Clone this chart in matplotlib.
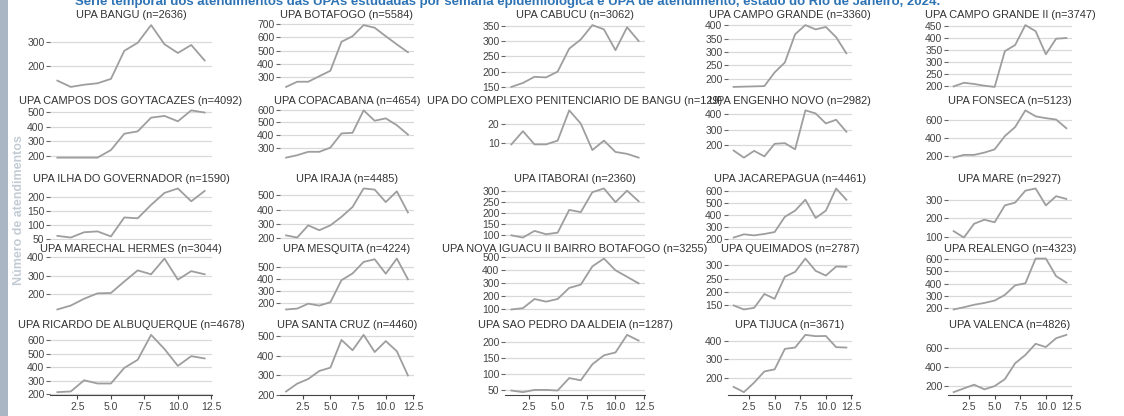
import matplotlib.pyplot as plt
from matplotlib.patches import Rectangle

# semanas epidemiologicas (eixo x comum a todos os paineis)
semanas = [1, 2, 3, 4, 5, 6, 7, 8, 9, 10, 11, 12]
xticks = [2.5, 5.0, 7.5, 10.0, 12.5]

upas = [
    "UPA BANGU", "UPA BOTAFOGO", "UPA CABUCU", "UPA CAMPO GRANDE", "UPA CAMPO GRANDE II",
    "UPA CAMPOS DOS GOYTACAZES", "UPA COPACABANA", "UPA DO COMPLEXO PENITENCIARIO DE BANGU",
    "UPA ENGENHO NOVO", "UPA FONSECA",
    "UPA ILHA DO GOVERNADOR", "UPA IRAJA", "UPA ITABORAI", "UPA JACAREPAGUA", "UPA MARE",
    "UPA MARECHAL HERMES", "UPA MESQUITA", "UPA NOVA IGUACU II BAIRRO BOTAFOGO", "UPA QUEIMADOS",
    "UPA REALENGO",
    "UPA RICARDO DE ALBUQUERQUE", "UPA SANTA CRUZ", "UPA SAO PEDRO DA ALDEIA", "UPA TIJUCA",
    "UPA VALENCA",
]
n_atend = [2636, 5584, 3062, 3360, 3747,
           4092, 4654, 129, 2982, 5123,
           1590, 4485, 2360, 4461, 2927,
           3044, 4224, 3255, 2787, 4323,
           4678, 4460, 1287, 3671, 4826]

# atendimentos por semana
bangu = [141, 115, 124, 130, 148, 264, 297, 370, 291, 255, 288, 224]
botafogo = [225, 264, 264, 306, 347, 566, 608, 692, 672, 608, 546, 487]
cabucu = [150, 163, 183, 181, 200, 275, 305, 352, 338, 270, 345, 300]
campo_grande = [170, 171, 172, 173, 224, 261, 366, 400, 384, 393, 355, 295]
campo_grande_ii = [200, 215, 210, 203, 198, 345, 370, 452, 427, 332, 396, 399]
campos = [188, 188, 188, 188, 240, 352, 368, 462, 474, 437, 512, 497]
copacabana = [222, 241, 268, 268, 301, 413, 418, 595, 513, 532, 478, 404]
penitenciario = [9, 16, 9, 9, 11, 27, 20, 6, 11, 5, 4, 2]
engenho_novo = [164, 118, 162, 126, 208, 212, 172, 425, 405, 340, 364, 286]
fonseca = [185, 215, 215, 240, 275, 420, 518, 700, 635, 615, 600, 505]
ilha = [60, 54, 73, 76, 58, 126, 123, 171, 214, 230, 184, 221]
iraja = [221, 206, 291, 257, 291, 350, 419, 548, 540, 453, 528, 381]
itaborai = [100, 90, 120, 105, 112, 215, 205, 295, 312, 250, 302, 254]
jacarepagua = [209, 236, 227, 239, 255, 383, 434, 526, 373, 434, 620, 525]
mare = [130, 95, 170, 192, 178, 270, 285, 350, 362, 270, 320, 305]
marechal = [117, 138, 175, 204, 206, 268, 328, 307, 392, 278, 324, 307]
mesquita = [146, 153, 194, 178, 206, 389, 445, 541, 563, 443, 569, 397]
nova_iguacu = [100, 110, 180, 160, 180, 265, 290, 430, 490, 400, 350, 300]
queimados = [150, 135, 141, 193, 175, 258, 276, 326, 280, 262, 296, 295]
realengo = [192, 210, 230, 245, 264, 310, 388, 404, 605, 605, 462, 410]
ricardo = [215, 220, 303, 279, 279, 395, 455, 640, 535, 410, 482, 465]
santa_cruz = [218, 258, 282, 323, 340, 482, 429, 508, 420, 476, 424, 300]
sao_pedro = [48, 43, 50, 50, 48, 87, 80, 130, 158, 167, 222, 204]
tijuca = [153, 125, 176, 236, 247, 357, 364, 432, 425, 426, 366, 364]
valenca = [130, 170, 210, 160, 195, 270, 440, 530, 650, 615, 710, 746]

series = [bangu, botafogo, cabucu, campo_grande, campo_grande_ii,
          campos, copacabana, penitenciario, engenho_novo, fonseca,
          ilha, iraja, itaborai, jacarepagua, mare,
          marechal, mesquita, nova_iguacu, queimados, realengo,
          ricardo, santa_cruz, sao_pedro, tijuca, valenca]

yticks = [
    [200, 300], [300, 400, 500, 600, 700], [150, 200, 250, 300, 350],
    [200, 250, 300, 350, 400], [200, 250, 300, 350, 400, 450],
    [200, 300, 400, 500], [300, 400, 500, 600], [10, 20], [200, 300, 400], [200, 400, 600],
    [50, 100, 150, 200], [200, 300, 400, 500], [100, 150, 200, 250, 300],
    [200, 300, 400, 500, 600], [100, 200, 300],
    [200, 300, 400], [200, 300, 400, 500], [100, 200, 300, 400, 500], [150, 200, 250, 300],
    [200, 300, 400, 500, 600],
    [200, 300, 400, 500, 600], [200, 300, 400, 500], [50, 100, 150, 200], [200, 300, 400],
    [200, 400, 600],
]

titolo = ("Série temporal dos atendimentos das UPAs estudadas por semana epidemiológica "
          "e UPA de atendimento, estado do Rio de Janeiro, 2024.")

W, H = 1124, 416
FONT = ['Liberation Sans Narrow', 'Liberation Sans', 'DejaVu Sans']

# posizione dei pannelli in pixel (sinistra/destra per colonna, alto/basso per riga)
col_left = [50, 280, 505, 728, 948]
col_right = [212, 414, 645, 852, 1072]
row_top = [22, 108, 186, 256, 332]
row_bottom = [90, 160, 240, 312, 395]


def px_box(l, r, t, b):
    return [l / W, 1 - b / H, (r - l) / W, (b - t) / H]


def draw_panel(fig, i):
    row, col = divmod(i, 5)
    ax = fig.add_axes(px_box(col_left[col], col_right[col], row_top[row], row_bottom[row]))
    ax.plot(semanas, series[i], color='#9e9e9e', linewidth=1.3)
    ax.set_xlim(0.45, 12.55)
    ax.set_yticks(yticks[i])
    ax.grid(axis='y', color='#d9d9d9', linewidth=0.9)
    ax.set_axisbelow(True)
    for side in ['left', 'right', 'top', 'bottom']:
        ax.spines[side].set_visible(False)
    ax.tick_params(axis='y', length=3, width=0.8, color='#666666', labelsize=7.5,
                   labelcolor='#444444', pad=1)
    if row == 4:
        ax.spines['bottom'].set_visible(True)
        ax.spines['bottom'].set_color('#444444')
        ax.spines['bottom'].set_linewidth(0.8)
        ax.set_xticks(xticks)
        ax.set_xticklabels([f"{t:.1f}" for t in xticks])
        ax.tick_params(axis='x', length=3, width=0.8, color='#444444', labelsize=7.5,
                       labelcolor='#444444', pad=2)
    else:
        ax.set_xticks(xticks)
        ax.tick_params(axis='x', bottom=False, labelbottom=False)
    for lab in ax.get_yticklabels() + ax.get_xticklabels():
        lab.set_family(FONT)
    ax.set_title(f"{upas[i]} (n={n_atend[i]})", fontsize=7.9, color='#333333', pad=3,
                 family=FONT)
    return ax


fig = plt.figure(figsize=(W / 100, H / 100), dpi=100)
fig.patch.set_facecolor('white')

# barra laterale della slide
fig.add_artist(Rectangle((0, 0), 8 / W, 1, transform=fig.transFigure,
                         facecolor='#aab6c4', edgecolor='none'))

for i in range(len(upas)):
    draw_panel(fig, i)

fig.text(75 / W, 1 - 2 / H, titolo, fontsize=9.5, fontweight='bold', color='#2e74b5',
         ha='left', va='center', family=FONT)
fig.text(19 / W, 1 - 210 / H, "Número de atendimentos", rotation=90, fontsize=9,
         fontweight='bold', color='#c3ccd5', ha='center', va='center', family=FONT)

fig.savefig('out.png', dpi=100)
